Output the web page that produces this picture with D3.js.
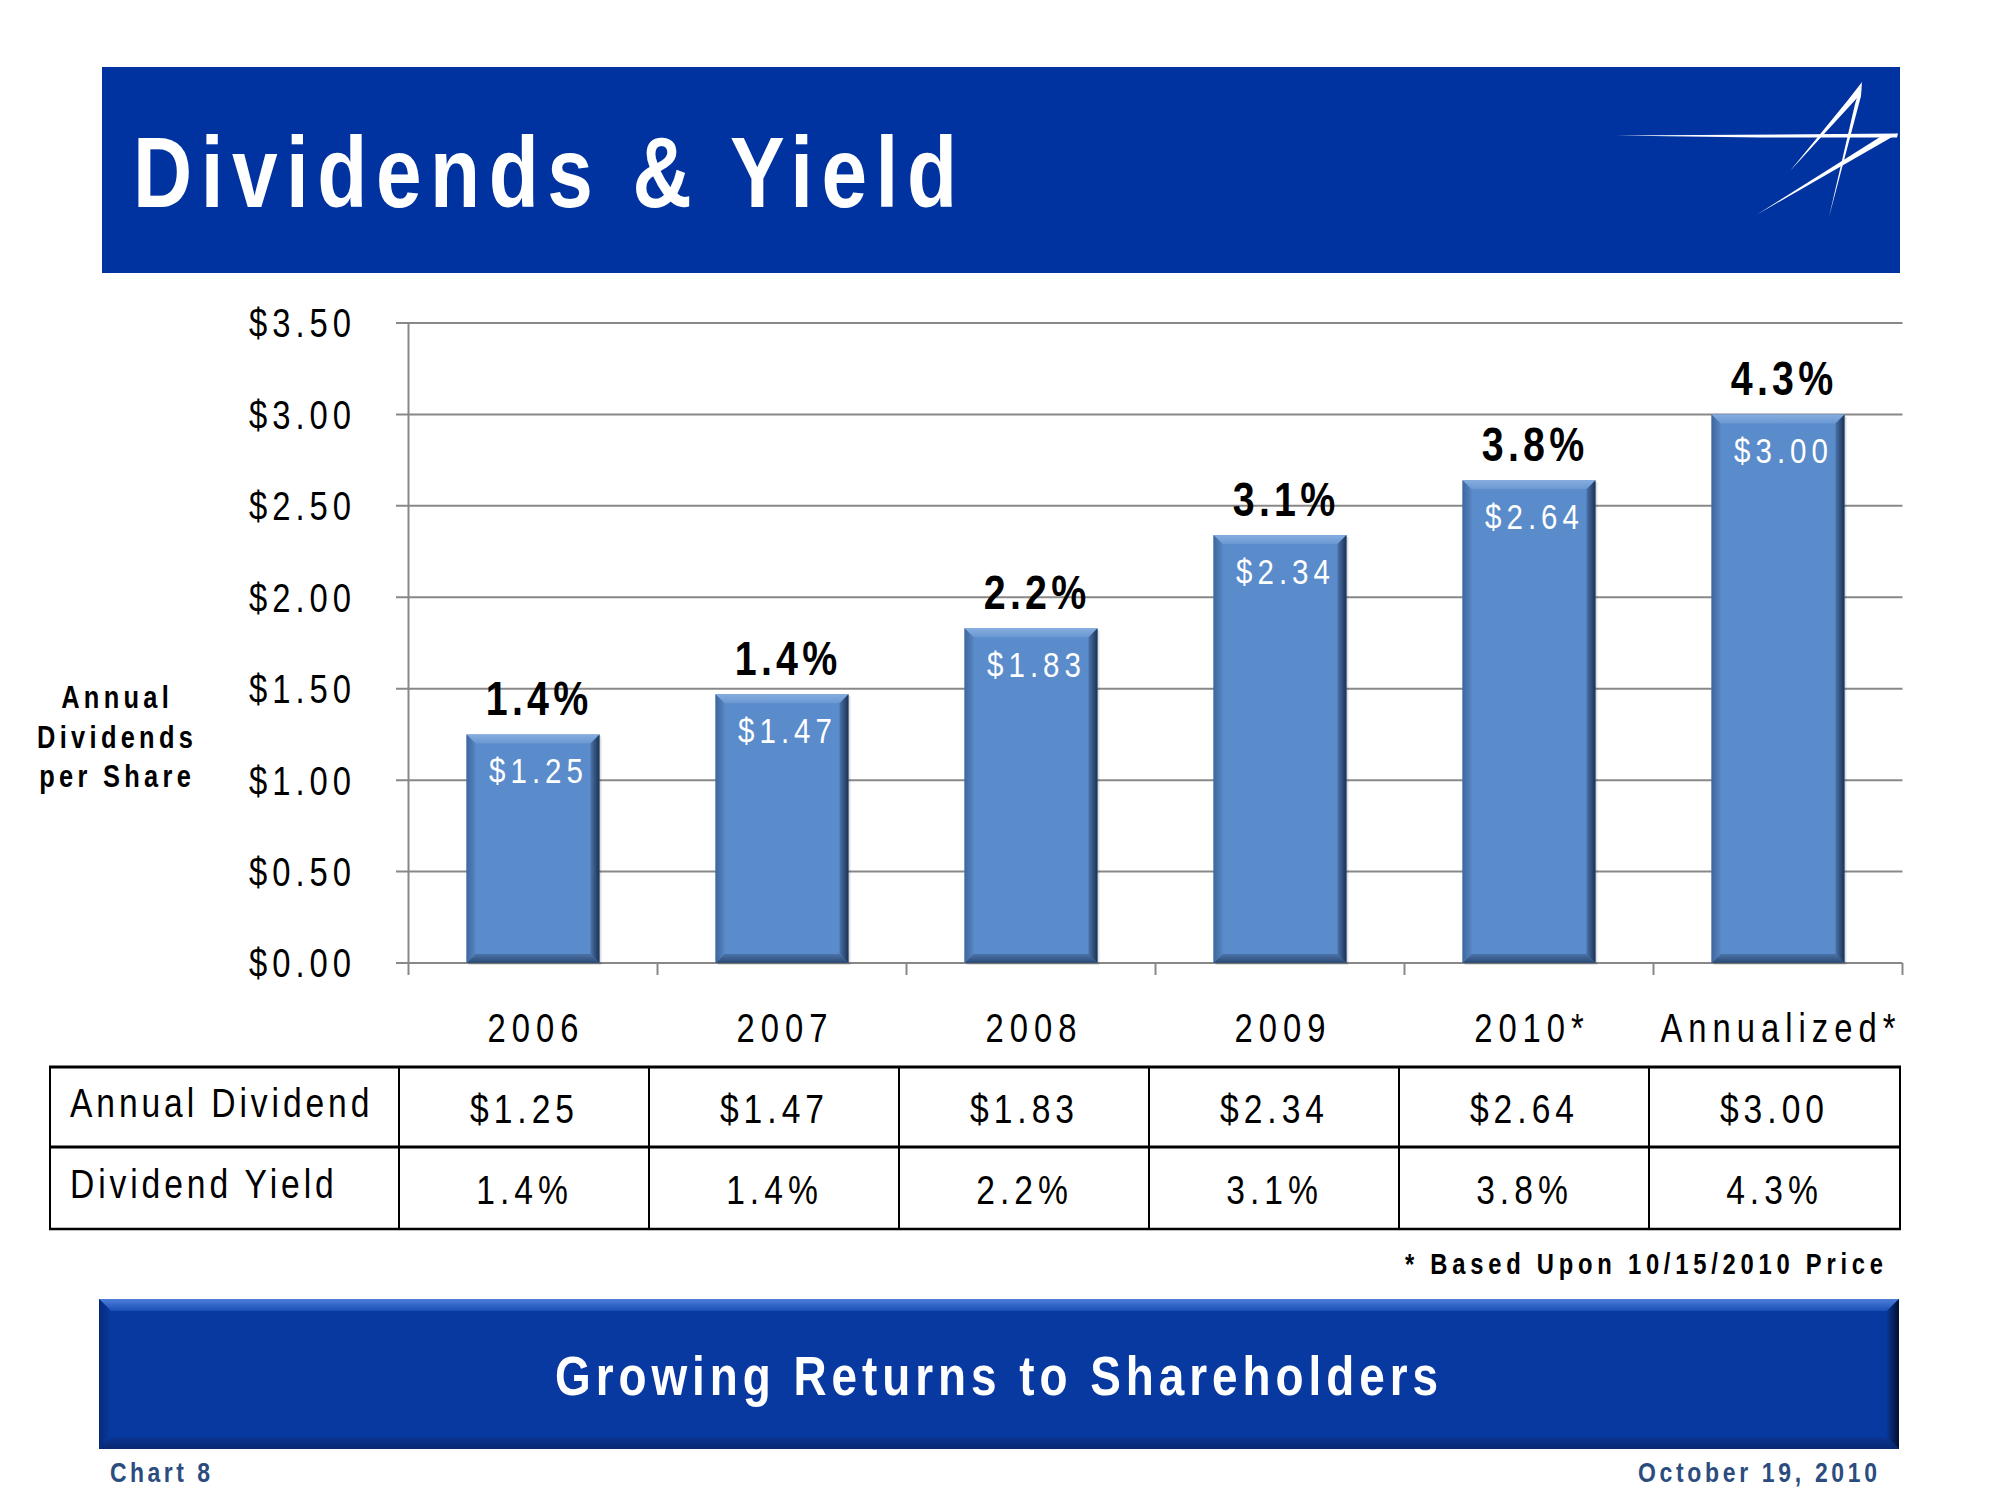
<!DOCTYPE html>
<html>
<head>
<meta charset="utf-8">
<script src="https://cdn.jsdelivr.net/npm/d3@7"></script>
<style>
  html, body { margin: 0; padding: 0; background: #ffffff; }
  svg { display: block; }
</style>
</head>
<body>
<script>
// ---------------- data ----------------
const categories = ["2006", "2007", "2008", "2009", "2010*", "Annualized*"];
const dividends = [1.25, 1.47, 1.83, 2.34, 2.64, 3.00];
const yields = [1.4, 1.4, 2.2, 3.1, 3.8, 4.3];
const yTicks = [0, 0.5, 1.0, 1.5, 2.0, 2.5, 3.0, 3.5];
const rowLabels = ["Annual Dividend", "Dividend Yield"];
const titleText = "Dividends & Yield";
const yAxisTitle = ["Annual", "Dividends", "per Share"];
const footnote = "* Based Upon 10/15/2010 Price";
const bannerText = "Growing Returns to Shareholders";
const footLeft = "Chart 8";
const footRight = "October 19, 2010";

const fmtMoney = d3.format("$.2f");
const fmtPct = v => v.toFixed(1) + "%";

// ---------------- font detection ----------------
const ctx = document.createElement("canvas").getContext("2d");
ctx.font = "40px 'Liberation Sans Narrow', monospace";
const wA = ctx.measureText("Annual Dividend 2006").width;
ctx.font = "40px monospace";
const wB = ctx.measureText("Annual Dividend 2006").width;
const hasNarrow = Math.abs(wA - wB) > 1;
const FAM = hasNarrow ? "'Liberation Sans Narrow', 'Liberation Sans', Arial, sans-serif" : "'Liberation Sans', Arial, sans-serif";
const SX = hasNarrow ? 1 : 0.82;

const W = 2000, H = 1500;
const svg = d3.select("body").append("svg").attr("width", W).attr("height", H);
svg.append("rect").attr("width", W).attr("height", H).attr("fill", "#ffffff");

function txt(g, x, y, str, o) {
  o = o || {};
  const ls = o.ls || 0;
  const anchor = o.anchor || "start";
  let ax = x;
  if (!o.width) {
    if (anchor === "middle") ax += ls / 2;
    if (anchor === "end") ax += ls;
  }
  const t = g.append("text")
    .attr("x", ax / SX).attr("y", y)
    .attr("transform", SX !== 1 ? `scale(${SX},1)` : null)
    .attr("font-family", FAM)
    .attr("font-size", o.size || 40)
    .attr("font-weight", o.weight || "normal")
    .attr("text-anchor", anchor)
    .attr("fill", o.fill || "#000")
    .text(str);
  if (o.width) {
    t.attr("textLength", o.width / SX).attr("lengthAdjust", "spacing");
  } else if (ls) {
    t.attr("letter-spacing", ls / SX);
  }
  return t;
}

// ---------------- defs ----------------
const defs = svg.append("defs");
function lg(id, x1, y1, x2, y2, stops) {
  const g = defs.append("linearGradient").attr("id", id)
    .attr("x1", x1).attr("y1", y1).attr("x2", x2).attr("y2", y2);
  stops.forEach(s => g.append("stop").attr("offset", s[0]).attr("stop-color", s[1]));
}
lg("barTop", 0, 0, 0, 1, [[0, "#86addf"], [1, "#6a98d3"]]);
lg("barRight", 0, 0, 1, 0, [[0, "#4a74ab"], [1, "#1b3152"]]);
lg("barLeft", 0, 0, 1, 0, [[0, "#3f679c"], [1, "#5585c2"]]);
lg("barBottom", 0, 0, 0, 1, [[0, "#4b73a8"], [1, "#2c4a74"]]);
lg("banTop", 0, 0, 0, 1, [[0, "#4d7fda"], [1, "#1a4fb5"]]);
lg("banBottom", 0, 0, 0, 1, [[0, "#0a3595"], [1, "#08276e"]]);
lg("banRight", 0, 0, 1, 0, [[0, "#0a358f"], [1, "#010f33"]]);
lg("banLeft", 0, 0, 1, 0, [[0, "#062a7a"], [1, "#0a3aa0"]]);

function bevelBox(g, x0, y0, x1, y1, b, fills) {
  g.append("rect").attr("x", x0).attr("y", y0).attr("width", x1 - x0).attr("height", y1 - y0).attr("fill", fills.main);
  const poly = (pts, f) => g.append("polygon").attr("points", pts.map(p => p.join(",")).join(" ")).attr("fill", f);
  poly([[x0, y0], [x1, y0], [x1 - b, y0 + b], [x0 + b, y0 + b]], fills.top);
  poly([[x0, y1], [x1, y1], [x1 - b, y1 - b], [x0 + b, y1 - b]], fills.bottom);
  poly([[x0, y0], [x0 + b, y0 + b], [x0 + b, y1 - b], [x0, y1]], fills.left);
  poly([[x1, y0], [x1 - b, y0 + b], [x1 - b, y1 - b], [x1, y1]], fills.right);
}

// ---------------- header ----------------
const header = svg.append("g");
header.append("rect").attr("x", 102).attr("y", 67).attr("width", 1798).attr("height", 206).attr("fill", "#00339f");
txt(header, 133, 207, titleText, { size: 100, weight: "bold", fill: "#ffffff", width: 824 });

// logo (white swooshes)
const logo = header.append("g").attr("fill", "#ffffff");
const lp = pts => logo.append("polygon").attr("points", pts.map(p => p.join(",")).join(" "));
lp([[1616, 135.6], [1898, 133.6], [1897, 137.6], [1760, 137.4]]);
lp([[1898, 133.6], [1886, 140.5], [1757, 214.5], [1880, 137]]);
lp([[1862, 82], [1858, 97], [1790, 171], [1848, 100]]);
lp([[1862, 82], [1861, 96], [1829, 217], [1855, 104]]);

// ---------------- chart ----------------
const x = d3.scaleBand().domain(categories).range([408.5, 1902.5]).paddingInner(0.466).paddingOuter(0.233);
const y = d3.scaleLinear().domain([0, 3.5]).range([963, 323]);
const step = x.step();
const bandStart = c => x(c) - x.paddingOuter() * step;

const chart = svg.append("g");
// gridlines
chart.selectAll(".grid").data(yTicks).join("line")
  .attr("x1", 396).attr("x2", 1902.5)
  .attr("y1", d => y(d)).attr("y2", d => y(d))
  .attr("stroke", "#888888").attr("stroke-width", 2);
// vertical axis line
chart.append("line").attr("x1", 408.5).attr("x2", 408.5).attr("y1", y(3.5)).attr("y2", 975)
  .attr("stroke", "#888888").attr("stroke-width", 2);
// category boundary ticks
const boundaries = categories.map(c => bandStart(c) + step);
chart.selectAll(".xt").data(boundaries).join("line")
  .attr("x1", d => d).attr("x2", d => d).attr("y1", y(0)).attr("y2", 975)
  .attr("stroke", "#888888").attr("stroke-width", 2);

// y tick labels
yTicks.forEach(v => txt(chart, 351, y(v) + 14.5, fmtMoney(v), { size: 40, ls: 5, anchor: "end" }));

// y-axis title
yAxisTitle.forEach((s, i) => txt(chart, 115, [708.5, 748, 786.6][i], s, { size: 31, weight: "bold", ls: 4.3, anchor: "middle" }));

// bars
const barsG = chart.append("g");
categories.forEach((c, i) => {
  const x0 = x(c), x1 = x(c) + x.bandwidth();
  const y0 = y(dividends[i]), y1 = y(0);
  // faint shadow
  barsG.append("rect").attr("x", x0 + 2).attr("y", y0 + 2).attr("width", x1 - x0).attr("height", y1 - y0)
    .attr("fill", "#000").attr("opacity", 0.12);
  bevelBox(barsG, x0, y0, x1, y1, 9, {
    main: "#5a8bca", top: "url(#barTop)", bottom: "url(#barBottom)",
    left: "url(#barLeft)", right: "url(#barRight)"
  });
  const cx = x0 + x.bandwidth() / 2;
  txt(barsG, cx + 3, y0 + 49, fmtMoney(dividends[i]), { size: 36, ls: 5, anchor: "middle", fill: "#ffffff" });
  txt(barsG, cx + 4, y0 - 19, fmtPct(yields[i]), { size: 48, weight: "bold", ls: 4.3, anchor: "middle" });
});

// x labels
categories.forEach(c => txt(chart, x(c) + x.bandwidth() / 2, 1042, c, { size: 40, ls: 6, anchor: "middle" }));

// ---------------- table ----------------
const tbl = svg.append("g");
const colX = d3.scaleBand().domain(categories).range([399, 1899]);
const rowY = d3.scaleBand().domain(rowLabels).range([1067, 1229]);
[1067, 1147].forEach(v => tbl.append("line").attr("x1", 49).attr("x2", 1901).attr("y1", v).attr("y2", v).attr("stroke", "#000").attr("stroke-width", 3));
tbl.append("line").attr("x1", 49).attr("x2", 1901).attr("y1", 1229).attr("y2", 1229).attr("stroke", "#000").attr("stroke-width", 2.5);
[50, ...categories.map(c => colX(c)), 1900].forEach(v =>
  tbl.append("line").attr("x1", v).attr("x2", v).attr("y1", 1067).attr("y2", 1229).attr("stroke", "#000").attr("stroke-width", 2));

rowLabels.forEach((r, ri) => {
  const base = rowY(r);
  txt(tbl, 70, base + 50, r, { size: 41, ls: 3.9 });
  const vals = ri === 0 ? dividends.map(fmtMoney) : yields.map(fmtPct);
  categories.forEach((c, ci) => {
    txt(tbl, colX(c) + colX.bandwidth() / 2 - 2, base + 56, vals[ci], { size: 41, ls: 5, anchor: "middle" });
  });
});

txt(svg, 1405, 1274, footnote, { size: 29, weight: "bold", width: 478 });

// ---------------- bottom banner ----------------
const ban = svg.append("g");
bevelBox(ban, 99, 1299, 1899, 1449, 12, {
  main: "#0739a1", top: "url(#banTop)", bottom: "url(#banBottom)",
  left: "url(#banLeft)", right: "url(#banRight)"
});
txt(ban, 555, 1395, bannerText, { size: 56, weight: "bold", fill: "#ffffff", width: 883 });

// footer
txt(svg, 110, 1482, footLeft, { size: 28, weight: "bold", fill: "#2b4c7e", width: 100 });
txt(svg, 1638, 1482, footRight, { size: 28, weight: "bold", fill: "#2b4c7e", width: 239 });
</script>
</body>
</html>
